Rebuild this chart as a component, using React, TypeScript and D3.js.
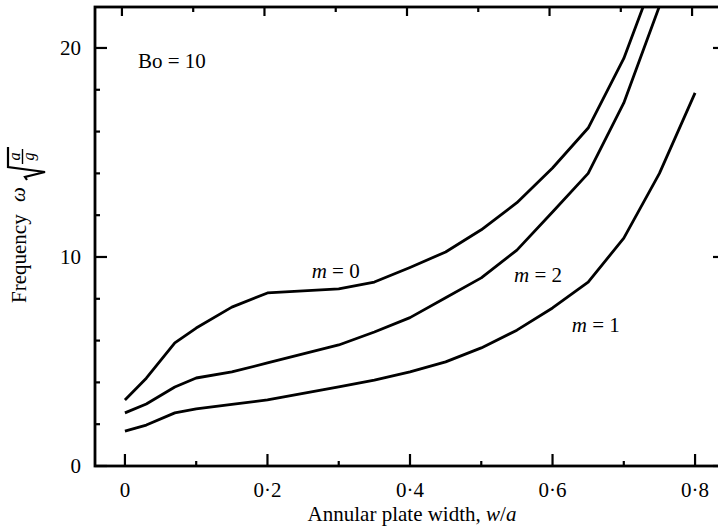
import React from 'react';
import * as d3 from 'd3';

// plate width w/a where the curves were read
const widths = [0, 0.03, 0.07, 0.1, 0.15, 0.2, 0.3, 0.35, 0.4, 0.45, 0.5, 0.55, 0.6, 0.65, 0.7, 0.75, 0.8];
// frequency omega*sqrt(a/g), null = not plotted
const freqM0 = [3.16, 4.2, 5.89, 6.6, 7.6, 8.28, 8.47, 8.8, 9.5, 10.24, 11.3, 12.6, 14.26, 16.17, 19.5, 24.05, null];
const freqM2 = [2.54, 2.97, 3.78, 4.21, 4.5, 4.93, 5.79, 6.41, 7.1, 8.05, 9.0, 10.33, 12.15, 14.0, 17.37, 22.0, null];
const freqM1 = [1.67, 1.96, 2.54, 2.73, 2.95, 3.16, 3.78, 4.11, 4.5, 4.98, 5.65, 6.5, 7.56, 8.8, 10.9, 14.0, 17.85];

const xMajor = [0, 0.2, 0.4, 0.6, 0.8];
const xMinor = [0.1, 0.3, 0.5, 0.7];
const xLabels = ['0', '0·2', '0·4', '0·6', '0·8'];
const yMajor = [0, 10, 20];
const yMinor = [2, 4, 6, 8, 12, 14, 16, 18];

const curveLabels = [
  { m: '0', x: 0.262, y: 9.0 },
  { m: '2', x: 0.546, y: 8.8 },
  { m: '1', x: 0.627, y: 6.4 },
];

const W = 718, H = 529;
const L = 95, R = 725, T = 7, B = 466;
const font = '"Liberation Serif", "Times New Roman", serif';

export default function App() {
  const x = d3.scaleLinear().domain([-0.042, 0.842]).range([L, R]);
  const y = d3.scaleLinear().domain([0, 21.96]).range([B, T]);

  const line = d3.line<[number, number | null]>()
    .defined(d => d[1] != null)
    .x(d => x(d[0]))
    .y(d => y(d[1] as number));

  const series = [freqM0, freqM2, freqM1].map(vals =>
    widths.map((w, i) => [w, vals[i]] as [number, number | null]));

  return (
    <svg width={W} height={H} style={{ position: 'absolute', left: 0, top: 0 }}
      fontFamily={font}>
      <defs>
        <clipPath id="plot">
          <rect x={L} y={T} width={R - L} height={B - T} />
        </clipPath>
      </defs>
      <rect width={W} height={H} fill="#fff" />

      {/* curves */}
      <g clipPath="url(#plot)" fill="none" stroke="#000" strokeWidth={2.8} strokeLinejoin="round">
        {series.map((s, i) => <path key={i} d={line(s) || ''} />)}
      </g>

      {/* frame */}
      <rect x={L} y={T} width={R - L} height={B - T} fill="none" stroke="#000" strokeWidth={2.8} />

      {/* ticks */}
      <g stroke="#000" strokeWidth={2.2}>
        {xMajor.map(v => <line key={'b' + v} x1={x(v)} x2={x(v)} y1={B} y2={B - 12} />)}
        {xMinor.map(v => <line key={'bm' + v} x1={x(v)} x2={x(v)} y1={B} y2={B - 5} />)}
        {xMajor.map(v => <line key={'t' + v} x1={x(v) - 3} x2={x(v) - 3} y1={T} y2={T + 9} />)}
        {xMinor.map(v => <line key={'tm' + v} x1={x(v) - 3} x2={x(v) - 3} y1={T} y2={T + 5} />)}
        {yMajor.map(v => <line key={'l' + v} x1={L} x2={L + 12} y1={y(v)} y2={y(v)} />)}
        {yMinor.map(v => <line key={'lm' + v} x1={L} x2={L + 5} y1={y(v)} y2={y(v)} />)}
        {yMajor.map(v => <line key={'r' + v} x1={R} x2={R - 12} y1={y(v)} y2={y(v)} />)}
        {yMinor.map(v => <line key={'rm' + v} x1={R} x2={R - 5} y1={y(v)} y2={y(v)} />)}
      </g>

      {/* tick labels */}
      <g fontSize={21} fill="#000">
        {xMajor.map((v, i) => (
          <text key={v} x={x(v)} y={497} textAnchor="middle">{xLabels[i]}</text>
        ))}
        {yMajor.map(v => (
          <text key={v} x={81} y={y(v) + 7} textAnchor="end">{v}</text>
        ))}
      </g>

      {/* x axis title */}
      <text x={412} y={521} fontSize={21} textAnchor="middle">
        Annular plate width, <tspan fontStyle="italic">w</tspan>/<tspan fontStyle="italic">a</tspan>
      </text>

      {/* y axis title */}
      <g transform="translate(26,303) rotate(-90)">
        <text x={0} y={0} fontSize={21}>Frequency</text>
        <text x={101} y={-1} fontSize={21} fontStyle="italic">ω</text>
        <path d="M123,1 L126,-1 L131,19 L136,-18 L156,-18" fill="none" stroke="#000" strokeWidth={2.2} strokeLinejoin="miter" />
        <text x={146.5} y={-6} fontSize={16} fontStyle="italic" textAnchor="middle">a</text>
        <line x1={139} x2={154} y1={-3.5} y2={-3.5} stroke="#000" strokeWidth={1.4} />
        <text x={146.5} y={8} fontSize={16} fontStyle="italic" textAnchor="middle">g</text>
      </g>

      <text x={138} y={68} fontSize={21}>Bo = 10</text>

      {curveLabels.map(c => (
        <text key={c.m} x={x(c.x)} y={y(c.y)} fontSize={21}>
          <tspan fontStyle="italic">m</tspan> = {c.m}
        </text>
      ))}
    </svg>
  );
}
